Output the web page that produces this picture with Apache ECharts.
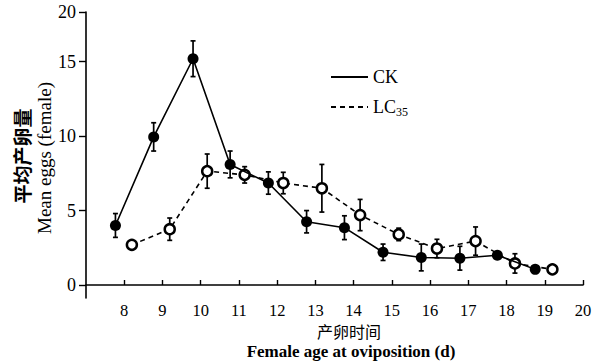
<!DOCTYPE html>
<html>
<head>
<meta charset="utf-8">
<script src="https://cdn.jsdelivr.net/npm/echarts@6/dist/echarts.min.js"></script>
<style>
  html, body { margin: 0; background: #fff; }
  #chart { width: 598px; height: 361px; }
</style>
</head>
<body>
<div id="chart"></div>
<script>
// female age (d) as plotted, means and +/- error
const ckAge = [7.77, 8.77, 9.8, 10.77, 11.77, 12.77, 13.76, 14.77, 15.77, 16.78, 17.76, 18.75];
const ckMean = [4.0, 9.95, 15.2, 8.1, 6.85, 4.25, 3.85, 2.2, 1.85, 1.8, 2.0, 1.05];
const ckErr = [0.8, 0.95, 1.2, 0.9, 0.75, 0.75, 0.8, 0.55, 0.9, 0.8, 0, 0];

const lcAge = [8.2, 9.19, 10.17, 11.15, 12.16, 13.17, 14.17, 15.18, 16.18, 17.19, 18.22, 19.2];
const lcMean = [2.7, 3.75, 7.65, 7.4, 6.85, 6.5, 4.7, 3.4, 2.45, 2.95, 1.45, 1.05];
const lcErr = [0.25, 0.75, 1.15, 0.55, 0.72, 1.6, 1.05, 0.42, 0.62, 0.95, 0.65, 0];

const xTicks = [8, 9, 10, 11, 12, 13, 14, 15, 16, 17, 18, 19, 20];
const yTicks = [0, 5, 10, 15];
// the printed axis squeezes 15-20, so "20" sits at the top of the axis
const yTop = 18.34;
const yTopLabel = '20';

const serif = "'Liberation Serif', 'DejaVu Serif', serif";
const cjk = "'Noto Sans CJK SC', sans-serif";

const chart = echarts.init(document.getElementById('chart'), null, { renderer: 'svg' });

function errorBars(ages, means, errs) {
  const data = [];
  ages.forEach((a, i) => {
    if (errs[i] > 0) data.push([a, means[i] - errs[i], means[i] + errs[i]]);
  });
  return {
    type: 'custom',
    data: data,
    encode: { x: 0, y: [1, 2] },
    silent: true,
    z: 1,
    renderItem: (params, api) => {
      const lo = api.coord([api.value(0), api.value(1)]);
      const hi = api.coord([api.value(0), api.value(2)]);
      const w = 2.5;
      const style = { stroke: '#000', lineWidth: 1.7 };
      return {
        type: 'group',
        children: [
          { type: 'line', shape: { x1: lo[0], y1: lo[1], x2: hi[0], y2: hi[1] }, style },
          { type: 'line', shape: { x1: lo[0] - w, y1: lo[1], x2: lo[0] + w, y2: lo[1] }, style },
          { type: 'line', shape: { x1: hi[0] - w, y1: hi[1], x2: hi[0] + w, y2: hi[1] }, style },
        ],
      };
    },
  };
}

const option = {
  animation: false,
  backgroundColor: '#fff',
  grid: { left: 86, right: 15, top: 12, bottom: 63 },
  legend: {
    orient: 'vertical',
    left: 325,
    top: 63,
    itemWidth: 37,
    itemHeight: 14,
    itemGap: 12,
    itemStyle: { opacity: 0 },
    textStyle: {
      fontFamily: serif,
      fontSize: 18,
      color: '#000',
      rich: {
        sub: { fontFamily: serif, fontSize: 12, color: '#000', padding: [9, 0, 0, 0] },
      },
    },
    formatter: name => (name === 'LC35' ? 'LC{sub|35}' : name),
    data: ['CK', 'LC35'],
  },
  xAxis: {
    type: 'value',
    min: 7,
    max: 20,
    splitLine: { show: false },
    axisLine: { lineStyle: { color: '#000', width: 1.6 } },
    axisTick: { inside: true, length: 5, customValues: xTicks, lineStyle: { color: '#000', width: 1.4 } },
    axisLabel: {
      customValues: xTicks,
      margin: 5,
      lineHeight: 15,
      fontFamily: serif,
      fontSize: 16.5,
      color: '#000',
    },
  },
  yAxis: {
    type: 'value',
    min: -0.873,
    max: yTop,
    splitLine: { show: false },
    axisLine: { show: true, lineStyle: { color: '#000', width: 1.6 } },
    axisTick: { show: true, length: 7, customValues: yTicks.concat([yTop]), lineStyle: { color: '#000', width: 1.4 } },
    axisLabel: {
      customValues: yTicks.concat([yTop]),
      formatter: v => (v === yTop ? yTopLabel : String(v)),
      margin: 10,
      fontFamily: serif,
      fontSize: 18,
      color: '#000',
    },
  },
  graphic: [
    {
      type: 'text', x: 349, y: 330.5,
      style: { text: '产卵时间', font: '16px ' + cjk, lineHeight: 15, fill: '#000', textAlign: 'center', textVerticalAlign: 'middle' },
    },
    {
      type: 'text', x: 351, y: 351.5,
      style: { text: 'Female age at oviposition (d)', font: 'bold 17px ' + serif, lineHeight: 15, fill: '#000', textAlign: 'center', textVerticalAlign: 'middle' },
    },
    {
      type: 'text', x: 21, y: 156, rotation: Math.PI / 2,
      style: { text: '平均产卵量', font: 'bold 19px ' + cjk, fill: '#000', textAlign: 'center', textVerticalAlign: 'middle' },
    },
    {
      type: 'text', x: 44, y: 158, rotation: Math.PI / 2,
      style: { text: 'Mean eggs (female)', font: '19px ' + serif, fill: '#000', textAlign: 'center', textVerticalAlign: 'middle' },
    },
  ],
  series: [
    errorBars(ckAge, ckMean, ckErr),
    errorBars(lcAge, lcMean, lcErr),
    {
      name: 'CK',
      type: 'line',
      data: ckAge.map((a, i) => [a, ckMean[i]]),
      symbol: 'circle',
      symbolSize: 11,
      itemStyle: { color: '#000' },
      lineStyle: { color: '#000', width: 1.6 },
      z: 3,
    },
    {
      name: 'LC35',
      type: 'line',
      data: lcAge.map((a, i) => [a, lcMean[i]]),
      symbol: 'circle',
      symbolSize: 10,
      itemStyle: { color: '#fff', borderColor: '#000', borderWidth: 2.5 },
      lineStyle: { color: '#000', width: 1.6, type: [5, 4] },
      z: 2,
    },
  ],
};

chart.setOption(option);
</script>
</body>
</html>
